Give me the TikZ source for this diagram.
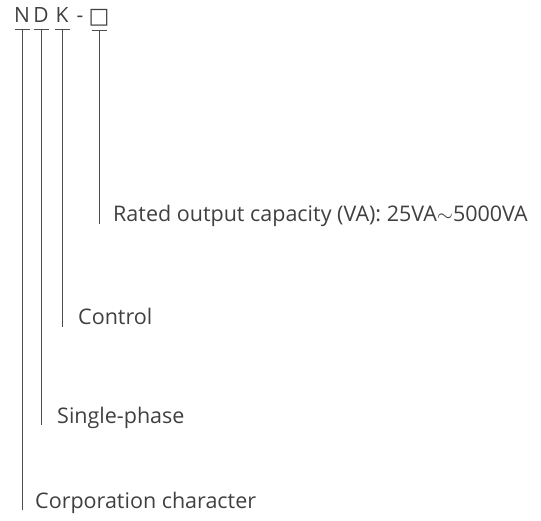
\documentclass[tikz,border=0pt]{standalone}
\usepackage{fontspec}
\setmainfont{Open Sans}
\newfontfamily\symfont{DejaVu Sans}
\usepackage{tikz}
\usetikzlibrary{positioning}
\tikzset{
  %% Letters of the model code
  codechar/.style={
    font=\fontsize{21}{25}\selectfont, text=black!75,
    inner sep=0pt, anchor=base
  },
  %% Explanation of one letter
  desc/.style={
    font=\fontsize{21.5}{25}\selectfont, text=black!75,
    inner sep=0pt, anchor=base west
  },
  %% Leader line
  lead/.style={draw=black!70, line width=0.7pt},
}

\begin{document}
\begin{tikzpicture}[x=1pt, y=1pt]
  \useasboundingbox (0,0) rectangle (541,520);

  %% Model code
  \node[codechar] (n)    at (22,497) {N};
  \node[codechar] (d)    at (41,497) {D};
  \node[codechar] (k)    at (62,497) {K};
  \node[codechar] (dash) at (80,497) {-};
  \node[codechar, font=\symfont\fontsize{22}{25}\selectfont] (cap) at (99,496) {□};

  %% Explanations
  \node[desc] (rated) at (113,298) {Rated output capacity (VA): 25VA$\sim$5000VA};
  \node[desc] (ctrl)  at (78,195)  {Control};
  \node[desc] (phase) at (57,97)   {Single-phase};
  \node[desc] (corp)  at (35,12)   {Corporation character};

  %% Leaders
  \foreach \c/\lab in {n/corp, d/phase, k/ctrl, cap/rated} {
    \draw[lead] ([shift={(-7.5,-6)}]\c.base) -- ([shift={(7.5,-6)}]\c.base);
    \draw[lead] ([yshift=-6]\c.base) -- ([yshift=-2]\c.base |- \lab.base);
  }

\end{tikzpicture}
\end{document}
